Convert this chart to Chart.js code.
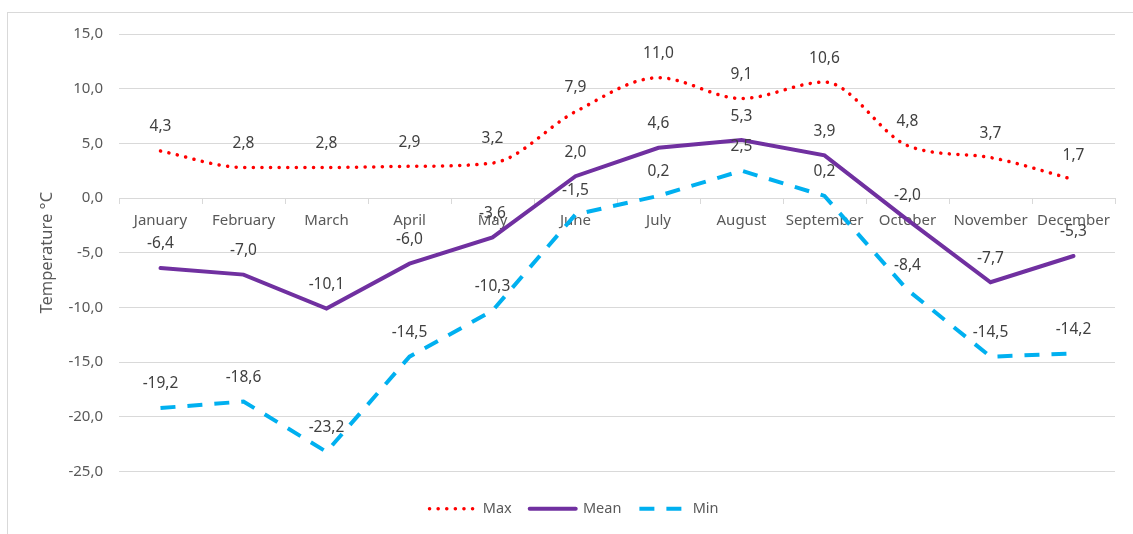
<!DOCTYPE html>
<html>
<head>
<meta charset="utf-8">
<script src="https://cdn.jsdelivr.net/npm/chart.js@4.4.1/dist/chart.umd.min.js"></script>
<style>
    body { margin: 0; background: #fff; overflow: hidden; }
    #frame { position: absolute; left: 7px; top: 12px; width: 1140px; height: 540px; border: 1px solid #d9d9d9; }
    #box { position: absolute; left: 0; top: 0; width: 1133px; height: 534px; }
</style>
</head>
<body>
<div id="frame"></div>
<div id="box"><canvas id="tempChart"></canvas></div>
<script>
const months = ['January', 'February', 'March', 'April', 'May', 'June', 'July', 'August', 'September', 'October', 'November', 'December'];
const maxTemps = [4.3, 2.8, 2.8, 2.9, 3.2, 7.9, 11.0, 9.1, 10.6, 4.8, 3.7, 1.7];
const meanTemps = [-6.4, -7.0, -10.1, -6.0, -3.6, 2.0, 4.6, 5.3, 3.9, -2.0, -7.7, -5.3];
const minTemps = [-19.2, -18.6, -23.2, -14.5, -10.3, -1.5, 0.2, 2.5, 0.2, -8.4, -14.5, -14.2];
const yMin = -25;
const yMax = 15;
const yStep = 5;

const FONT = '"Noto Sans", sans-serif';

function fmt(v) {
    return v.toFixed(1).replace('.', ',');
}

// value labels above every point
const valueLabels = {
    id: 'valueLabels',
    afterDatasetsDraw(chart) {
        const ctx = chart.ctx;
        ctx.save();
        ctx.font = '15.5px ' + FONT;
        ctx.fillStyle = '#404040';
        ctx.textAlign = 'center';
        ctx.textBaseline = 'middle';
        chart.data.datasets.forEach((ds, i) => {
            chart.getDatasetMeta(i).data.forEach((pt, j) => {
                ctx.fillText(fmt(ds.data[j]), pt.x, pt.y - 24);
            });
        });
        ctx.restore();
    }
};

const ctx = document.getElementById('tempChart').getContext('2d');
new Chart(ctx, {
    type: 'line',
    data: {
        labels: months,
        datasets: [{
            label: 'Max',
            data: maxTemps,
            borderColor: '#FF0000',
            backgroundColor: '#FF0000',
            borderWidth: 3.5,
            borderDash: [0.1, 8.5],
            borderCapStyle: 'round',
            cubicInterpolationMode: 'monotone',
            pointRadius: 0
        }, {
            label: 'Mean',
            data: meanTemps,
            borderColor: '#7030A0',
            backgroundColor: '#7030A0',
            borderWidth: 4,
            borderCapStyle: 'round',
            tension: 0,
            pointRadius: 0
        }, {
            label: 'Min',
            data: minTemps,
            borderColor: '#00B0F0',
            backgroundColor: '#00B0F0',
            borderWidth: 4,
            borderDash: [15, 12],
            borderCapStyle: 'butt',
            tension: 0,
            pointRadius: 0
        }]
    },
    options: {
        responsive: true,
        maintainAspectRatio: false,
        animation: false,
        layout: {
            padding: { left: 33, right: 18, top: 34, bottom: 8 }
        },
        plugins: {
            tooltip: { enabled: false },
            legend: {
                position: 'bottom',
                labels: {
                    usePointStyle: true,
                    pointStyle: 'line',
                    pointStyleWidth: 46,
                    padding: 18,
                    color: '#595959',
                    font: { family: FONT, size: 14.5 },
                    generateLabels: chart => chart.data.datasets.map((ds, i) => ({
                        text: ds.label,
                        datasetIndex: i,
                        strokeStyle: ds.borderColor,
                        fillStyle: ds.borderColor,
                        lineWidth: ds.borderWidth,
                        lineDash: ds.borderDash || [],
                        lineCap: ds.borderCapStyle,
                        pointStyle: 'line',
                        fontColor: '#595959',
                        hidden: false
                    }))
                }
            }
        },
        scales: {
            x: {
                position: { y: 0 },
                offset: true,
                grid: {
                    display: true,
                    offset: true,
                    drawOnChartArea: false,
                    drawTicks: true,
                    tickLength: 5,
                    color: '#d9d9d9'
                },
                border: { display: true, color: '#d9d9d9' },
                ticks: {
                    color: '#595959',
                    padding: 9,
                    maxRotation: 0,
                    autoSkip: false,
                    font: { family: FONT, size: 15 }
                }
            },
            xPad: {
                type: 'linear',
                position: 'bottom',
                grid: { display: false },
                border: { display: false },
                ticks: { display: false },
                afterFit: s => { s.height = 12; }
            },
            y: {
                min: yMin,
                max: yMax,
                afterFit: s => { s.width = 86; },
                ticks: {
                    stepSize: yStep,
                    color: '#595959',
                    padding: 16,
                    font: { family: FONT, size: 15 },
                    callback: v => fmt(v)
                },
                grid: { color: '#d9d9d9', drawTicks: false },
                border: { display: false },
                title: {
                    display: true,
                    text: 'Temperature °C',
                    color: '#595959',
                    font: { family: FONT, size: 16.5 }
                }
            }
        }
    },
    plugins: [valueLabels]
});
</script>
</body>
</html>
